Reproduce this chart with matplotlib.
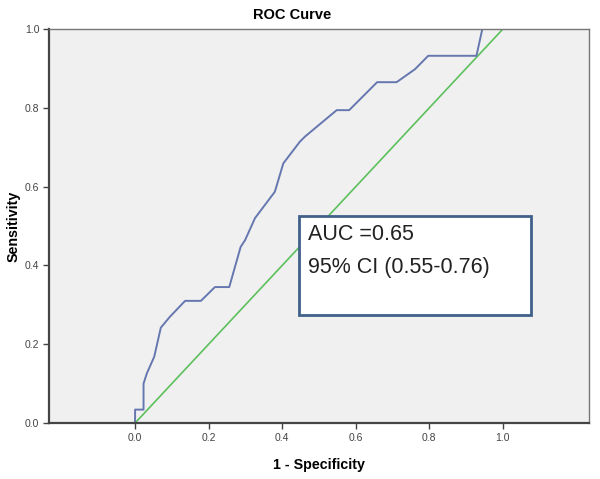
import matplotlib
matplotlib.use("Agg")
import matplotlib.pyplot as plt
from matplotlib.patches import Rectangle

plt.rcParams['font.family'] = ['Liberation Sans', 'DejaVu Sans']

# ROC points
fpr = [0.0, 0.0, 0.023, 0.023, 0.032, 0.052, 0.070, 0.095, 0.136, 0.179, 0.217,
       0.256, 0.287, 0.299, 0.326, 0.380, 0.403, 0.448, 0.462, 0.548, 0.582,
       0.658, 0.711, 0.761, 0.797, 0.928, 0.944, 0.996]
tpr = [0.0, 0.034, 0.034, 0.100, 0.126, 0.168, 0.242, 0.270, 0.310, 0.310, 0.345,
       0.345, 0.447, 0.464, 0.520, 0.587, 0.659, 0.714, 0.727, 0.794, 0.794,
       0.865, 0.865, 0.898, 0.932, 0.932, 1.0, 1.0]
ref_x = [0.0, 1.0]
ref_y = [0.0, 1.0]
ticks = [0.0, 0.2, 0.4, 0.6, 0.8, 1.0]
box_lines = ["AUC =0.65", "95% CI (0.55-0.76)"]

fig = plt.figure(figsize=(6, 4.79), dpi=100)
ax = fig.add_axes([49/600, 1-423/479, 540/600, 394/479])
ax.set_facecolor('#f0f0f0')

ax.plot(ref_x, ref_y, color='#5cc05c', lw=1.2)
ax.plot(fpr, tpr, color='#6677b0', lw=1.4)

ax.set_xlim(-0.234, 1.234)
ax.set_ylim(0, 1)
ax.set_xticks(ticks)
ax.set_yticks(ticks)
ax.set_xticklabels([f"{t:.1f}" for t in ticks])
ax.set_yticklabels([f"{t:.1f}" for t in ticks])
ax.tick_params(direction='out', length=4, width=1, color='#444444',
               labelsize=7.5, labelcolor='#444444', pad=3)
for s in ['bottom', 'left']:
    ax.spines[s].set_color('#444444')
    ax.spines[s].set_linewidth(1.6)
for s in ['top', 'right']:
    ax.spines[s].set_color('#777777')
    ax.spines[s].set_linewidth(1.0)

ax.set_xlabel("1 - Specificity", fontsize=10.3, fontweight='bold', labelpad=11)
ax.set_ylabel("Sensitivity", fontsize=10.3, fontweight='bold', labelpad=3)
fig.text(292/600, 1-15/479, "ROC Curve", fontsize=10.5, fontweight='bold',
         ha='center', va='center')

# annotation box
bx0, bx1 = (299-49)/540, (531-49)/540
by0, by1 = (423-315)/394, (423-216)/394
ax.add_patch(Rectangle((bx0, by0), bx1-bx0, by1-by0, transform=ax.transAxes,
                       facecolor='white', edgecolor='#41608a', lw=2, zorder=5))
ax.text((308-49)/540, (423-240)/394, box_lines[0], transform=ax.transAxes,
        fontsize=15.5, color='#222222', va='baseline', zorder=6)
ax.text((308-49)/540, (423-273)/394, box_lines[1], transform=ax.transAxes,
        fontsize=15.5, color='#222222', va='baseline', zorder=6)

fig.savefig("out.png", dpi=100)
